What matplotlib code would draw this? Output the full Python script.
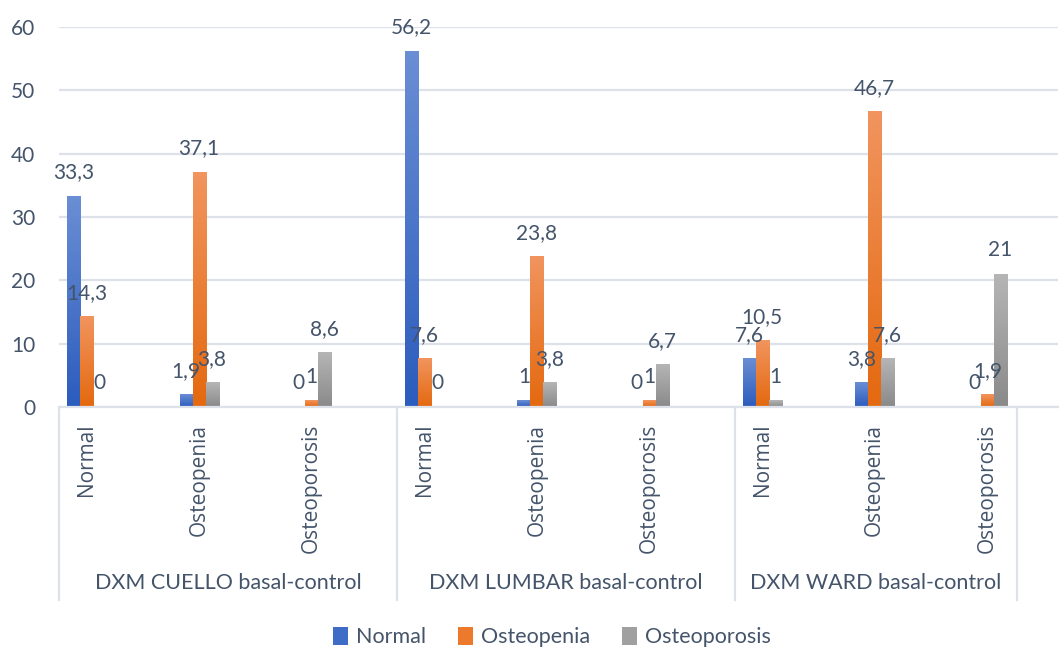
import matplotlib.pyplot as plt
import numpy as np
from matplotlib.colors import LinearSegmentedColormap
from matplotlib.patches import Patch

plt.rcParams['font.family'] = ['Lato', 'DejaVu Sans']

groups = ["DXM CUELLO basal-control", "DXM LUMBAR basal-control", "DXM WARD basal-control"]
categories = ["Normal", "Osteopenia", "Osteoporosis"] * 3
series = ["Normal", "Osteopenia", "Osteoporosis"]

normal = [33.3, 1.9, 0, 56.2, 1, 0, 7.6, 3.8, 0]
osteopenia = [14.3, 37.1, 1, 7.6, 23.8, 1, 10.5, 46.7, 1.9]
osteoporosis = [0, 3.8, 8.6, 0, 3.8, 6.7, 1, 7.6, 21]

# (top, bottom) colours of the vertical gradient on each bar
gradients = [("#6a8ed4", "#2c5cbd"), ("#f1945e", "#e4690f"), ("#b5b5b5", "#8a8a8a")]
solid = ["#3f6cc6", "#ed7a2c", "#a0a0a0"]
text_color = "#44546a"
grid_color = "#dde2ea"

fig = plt.figure(figsize=(10.59, 6.47), dpi=100)
ax = fig.add_axes([59 / 1059, 240 / 647, 999 / 1059, 380 / 647])

x = np.arange(len(categories))
width = 0.1155
offsets = [-width, 0, width]

for vals, off, (top, bot) in zip([normal, osteopenia, osteoporosis], offsets, gradients):
    cmap = LinearSegmentedColormap.from_list("g", [bot, top])
    bars = ax.bar(x + off, vals, width, color="none", zorder=2)
    for b, v in zip(bars, vals):
        if v > 0:
            x0 = b.get_x()
            ax.imshow(np.linspace(0, 1, 64).reshape(-1, 1), cmap=cmap, origin="lower",
                      extent=(x0, x0 + b.get_width(), 0, v), aspect="auto", zorder=2)
        label = f"{v:g}".replace(".", ",")
        ax.annotate(label, (b.get_x() + b.get_width() / 2, v), xytext=(0, 17),
                    textcoords="offset points", ha="center", va="center",
                    fontsize=15, color=text_color, zorder=3)

ax.set_xlim(-0.244, 8.628)
ax.set_ylim(0, 60)
ax.set_yticks(range(0, 61, 10))
ax.yaxis.grid(True, color=grid_color, linewidth=1.6, zorder=0)
ax.set_axisbelow(True)
for s in ["top", "right", "left"]:
    ax.spines[s].set_visible(False)
ax.spines["bottom"].set_color(grid_color)
ax.spines["bottom"].set_linewidth(1.6)
ax.tick_params(axis="y", length=0, pad=17, labelsize=15, labelcolor=text_color)

ax.set_xticks(x)
ax.set_xticklabels(categories, rotation=90, fontsize=15, color=text_color,
                   family=["Open Sans", "DejaVu Sans"])
ax.tick_params(axis="x", length=0, pad=12)

# group separators and labels beneath the category axis
trans = ax.get_xaxis_transform()
for sx in [-0.244, 2.756, 5.756, 8.264]:
    ax.plot([sx, sx], [0, -0.508], transform=trans, color=grid_color,
            linewidth=1.6, clip_on=False)
for i, g in enumerate(groups):
    left = -0.244 + 3 * i
    right = min(left + 3, 8.264)
    ax.text((left + right) / 2, -0.463, g, transform=trans, ha="center", va="center",
            fontsize=15.5, color=text_color)

handles = [Patch(facecolor=c, edgecolor="none") for c in solid]
leg = fig.legend(handles, series, loc="center", bbox_to_anchor=(0.521, 1 - 637 / 647),
                 ncol=3, frameon=False, fontsize=15.5, handlelength=0.7, handleheight=0.9,
                 handletextpad=0.35, columnspacing=1.5, labelcolor=text_color)

fig.savefig("out.png", dpi=100)
